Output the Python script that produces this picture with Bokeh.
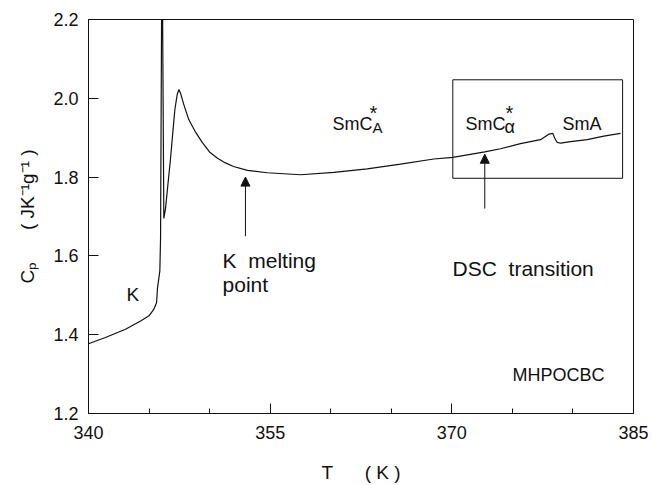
from bokeh.plotting import figure
from bokeh.models import FixedTicker, Label, Arrow, NormalHead, PrintfTickFormatter
from bokeh.embed import file_html
from bokeh.resources import INLINE

# ---- data ----
T = [340.0, 341.4, 343.06, 344.3, 345.0, 345.4, 345.62, 345.70, 345.89, 345.95,
     346.07, 346.22, 346.36, 346.55, 346.77, 346.96, 347.13, 347.32, 347.46, 347.60,
     347.87, 348.28, 348.84, 349.39, 350.02, 350.65, 351.31, 351.97, 353.13, 354.76,
     357.51, 360.26, 363.01, 365.76, 368.51, 370.08, 372.72, 374.02, 375.67, 377.32,
     378.01, 378.34, 378.48, 378.70, 378.98, 379.80, 381.18, 382.55, 383.93]
Cp = [1.377, 1.393, 1.414, 1.435, 1.448, 1.465, 1.481, 1.519, 1.562, 1.645,
      2.45, 1.695, 1.720, 1.779, 1.846, 1.913, 1.971, 2.009, 2.022, 2.013,
      1.984, 1.946, 1.914, 1.888, 1.863, 1.848, 1.836, 1.827, 1.817, 1.811,
      1.806, 1.812, 1.821, 1.833, 1.846, 1.850, 1.864, 1.872, 1.885, 1.895,
      1.909, 1.911, 1.900, 1.888, 1.886, 1.890, 1.895, 1.904, 1.911]

x_major = [340, 355, 370, 385]
x_minor = [345, 350, 360, 365, 375, 380]
y_major = [1.2, 1.4, 1.6, 1.8, 2.0, 2.2]

FONT = "Liberation Sans"
INK = "#111111"
NB = "\u00a0"

p = figure(width=652, height=485, x_range=(340, 385), y_range=(1.2, 2.2),
           output_backend="svg", toolbar_location=None,
           min_border_left=88, min_border_right=19, min_border_top=19,
           min_border_bottom=68)
p.xgrid.visible = False
p.ygrid.visible = False
p.outline_line_color = INK
p.outline_line_width = 1
p.background_fill_color = "white"
p.border_fill_color = "white"

p.xaxis.ticker = FixedTicker(ticks=x_major, minor_ticks=x_minor)
p.yaxis.ticker = FixedTicker(ticks=y_major, minor_ticks=[])
p.yaxis.formatter = PrintfTickFormatter(format="%.1f")

for ax in (p.xaxis, p.yaxis):
    ax.major_tick_in = 10
    ax.major_tick_out = 0
    ax.minor_tick_in = 5
    ax.minor_tick_out = 0
    ax.axis_line_color = INK
    ax.major_tick_line_color = INK
    ax.minor_tick_line_color = INK
    ax.major_label_text_font = FONT
    ax.major_label_text_font_size = "18px"
    ax.major_label_text_color = INK
    ax.axis_label_text_font = FONT
    ax.axis_label_text_font_size = "19px"
    ax.axis_label_text_font_style = "normal"
    ax.axis_label_text_color = INK

p.xaxis.major_label_standoff = 12
p.yaxis.major_label_standoff = 10
p.xaxis.axis_label = "T" + NB * 6 + "(" + NB + "K" + NB + ")"
p.yaxis.axis_label = "C\u209a" + NB * 6 + "(" + NB + "JK\u207b\u00b9g\u207b\u00b9" + NB + ")"
p.xaxis.axis_label_standoff = 20
p.yaxis.axis_label_standoff = 12

p.line(T, Cp, line_color=INK, line_width=1.2)

# inner box around the SmC*alpha / SmA region
p.quad(left=370.08, right=384.1, bottom=1.797, top=2.047,
       fill_color=None, line_color=INK, line_width=1)

def lab(x, y, text, size, dx=0, dy=0):
    p.add_layout(Label(x=x, y=y, text=text, text_font=FONT,
                       text_font_size=size, text_color=INK,
                       x_offset=dx, y_offset=dy,
                       text_baseline="alphabetic", text_align="left"))

lab(343.14, 1.5015, "K", "19px")
lab(351.07, 1.589, "K" + NB * 2 + "melting", "21px")
lab(351.07, 1.527, "point", "21px")
lab(370.06, 1.567, "DSC" + NB * 2 + "transition", "21px")
lab(375.01, 1.298, "MHPOCBC", "18px")

# SmC*_A
lab(360.15, 1.934, "SmC", "18px")
lab(360.15, 1.934, "*", "20px", dx=37, dy=11)
lab(360.15, 1.934, "A", "15px", dx=40, dy=-3)

# SmC*_alpha
lab(371.13, 1.934, "SmC", "18px")
lab(371.13, 1.934, "*", "20px", dx=40, dy=11)
lab(371.13, 1.934, "\u03b1", "18px", dx=39, dy=-3)

lab(379.14, 1.936, "SmA", "18px")

for ax_x, y0, y1 in [(352.96, 1.650, 1.800), (372.72, 1.720, 1.858)]:
    p.add_layout(Arrow(x_start=ax_x, y_start=y0, x_end=ax_x, y_end=y1,
                       line_color=INK, line_width=1,
                       end=NormalHead(size=9, fill_color=INK, line_color=INK)))

open("out.html", "w").write(file_html(p, INLINE))
